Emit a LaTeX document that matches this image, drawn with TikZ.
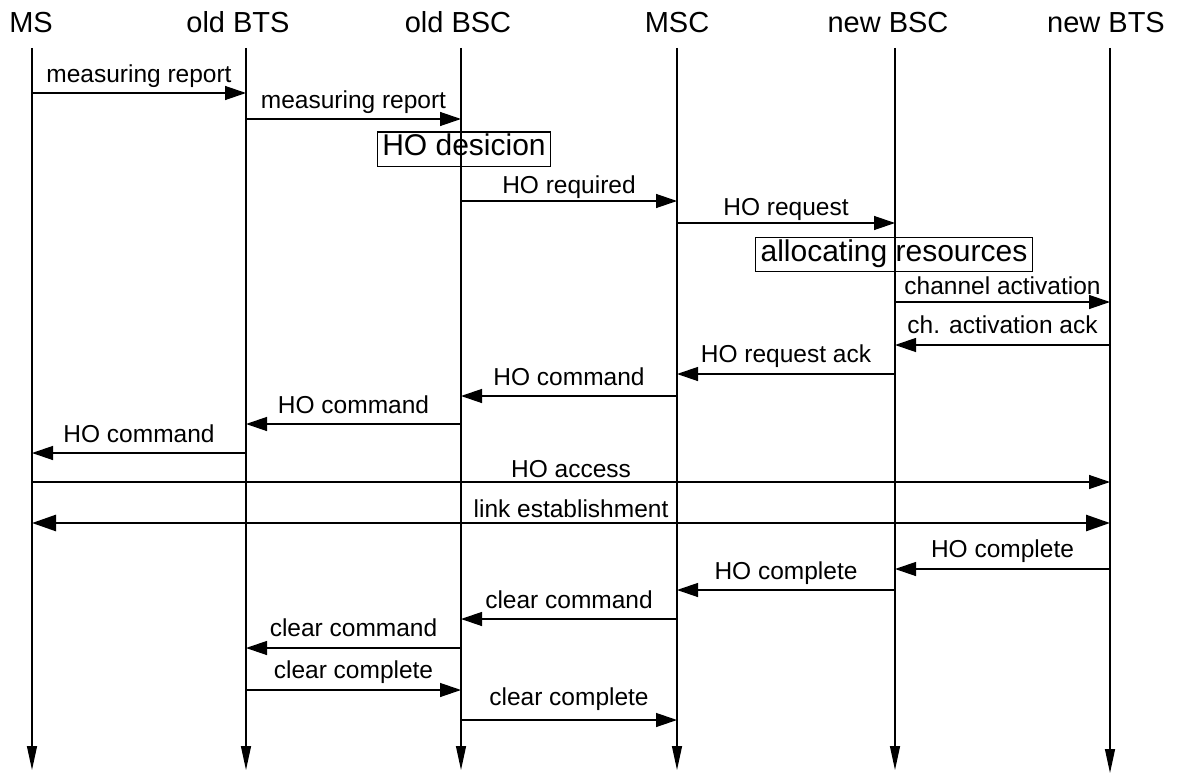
\documentclass[tikz,border=0pt]{standalone}
\usepackage{fontspec}
\setmainfont{Liberation Sans}
\usetikzlibrary{arrows.meta}

% one message: name, from, to, arrow y, label baseline y, label
\newcommand\sqmsg[6]{%
  \draw[msgline] (#2 |- 0,#4) -- (#3 |- 0,#4);
  \path (#2 |- 0,#5) -- (#3 |- 0,#5) node[lbl,midway,anchor=base] (#1) {#6};}

\begin{document}
\begin{tikzpicture}[x=1pt,y=-1pt,
  hdr/.style={font=\fontsize{29}{33}\selectfont,inner sep=0pt},
  lbl/.style={font=\fontsize{24.5}{28}\selectfont,inner sep=0pt},
  boxtxt/.style={draw,line width=1pt,font=\fontsize{30}{34}\selectfont,inner xsep=5pt,inner ysep=0pt},
  lifeline/.style={line width=1.3pt,-{Triangle[length=24pt,width=10pt]}},
  msgline/.style={line width=1.3pt,-{Triangle[length=21pt,width=14pt]}},
  linkline/.style={line width=2.6pt,{Triangle[length=24pt,width=16pt]}-{Triangle[length=24pt,width=16pt]}}]
\useasboundingbox (0,0) rectangle (1177,773);
\fill[white] (0,0) rectangle (1177,773);

% lifeline heads
\node[hdr,anchor=base] (hMS)   at (31,33)   {MS};
\node[hdr,anchor=base] (hOBTS) at (238,33)  {old BTS};
\node[hdr,anchor=base] (hOBSC) at (458,33)  {old BSC};
\node[hdr,anchor=base] (hMSC)  at (677,33)  {MSC};
\node[hdr,anchor=base] (hNBSC) at (888,33)  {new BSC};
\node[hdr,anchor=base] (hNBTS) at (1106,33) {new BTS};

% lifelines
\coordinate (ms)   at (32,48);   \coordinate (msE)   at (32,770);
\coordinate (obts) at (246,48);  \coordinate (obtsE) at (246,770);
\coordinate (obsc) at (461,48);  \coordinate (obscE) at (461,770);
\coordinate (msc)  at (677,48);  \coordinate (mscE)  at (677,770);
\coordinate (nbsc) at (895,48);  \coordinate (nbscE) at (895,770);
\coordinate (nbts) at (1110,48); \coordinate (nbtsE) at (1110,773);
\foreach \a/\b in {ms/msE,obts/obtsE,obsc/obscE,msc/mscE,nbsc/nbscE,nbts/nbtsE}
  \draw[lifeline] (\a) -- (\b);

% messages
\sqmsg{m1}{ms}{obts}{93}{83}{measuring report}
\sqmsg{m2}{obts}{obsc}{119}{109}{measuring report}
\node[boxtxt,anchor=center] (dec) at (464,149) {\strut HO desicion};
\sqmsg{m3}{obsc}{msc}{201}{193}{HO required}
\sqmsg{m4}{msc}{nbsc}{223}{215}{HO request}
\node[boxtxt,anchor=center] (alloc) at (894,254.5) {\strut allocating resources};
\sqmsg{m5}{nbsc}{nbts}{302}{294}{channel activation}
\sqmsg{m6}{nbts}{nbsc}{345}{333}{ch. activation ack}
\sqmsg{m7}{nbsc}{msc}{374}{362}{HO request ack}
\sqmsg{m8}{msc}{obsc}{396}{385}{HO command}
\sqmsg{m9}{obsc}{obts}{424}{413}{HO command}
\sqmsg{m10}{obts}{ms}{453}{442}{HO command}
\sqmsg{m11}{ms}{nbts}{482}{477}{HO access}
\draw[linkline] (ms |- 0,523) -- (nbts |- 0,523);
\path (ms |- 0,517) -- (nbts |- 0,517) node[lbl,midway,anchor=base] (m12) {link establishment};
\sqmsg{m13}{nbts}{nbsc}{569}{557}{HO complete}
\sqmsg{m14}{nbsc}{msc}{590}{579}{HO complete}
\sqmsg{m15}{msc}{obsc}{619}{608}{clear command}
\sqmsg{m16}{obsc}{obts}{648}{636}{clear command}
\sqmsg{m17}{obts}{obsc}{690}{678}{clear complete}
\sqmsg{m18}{obsc}{msc}{720}{705}{clear complete}
\end{tikzpicture}
\end{document}
